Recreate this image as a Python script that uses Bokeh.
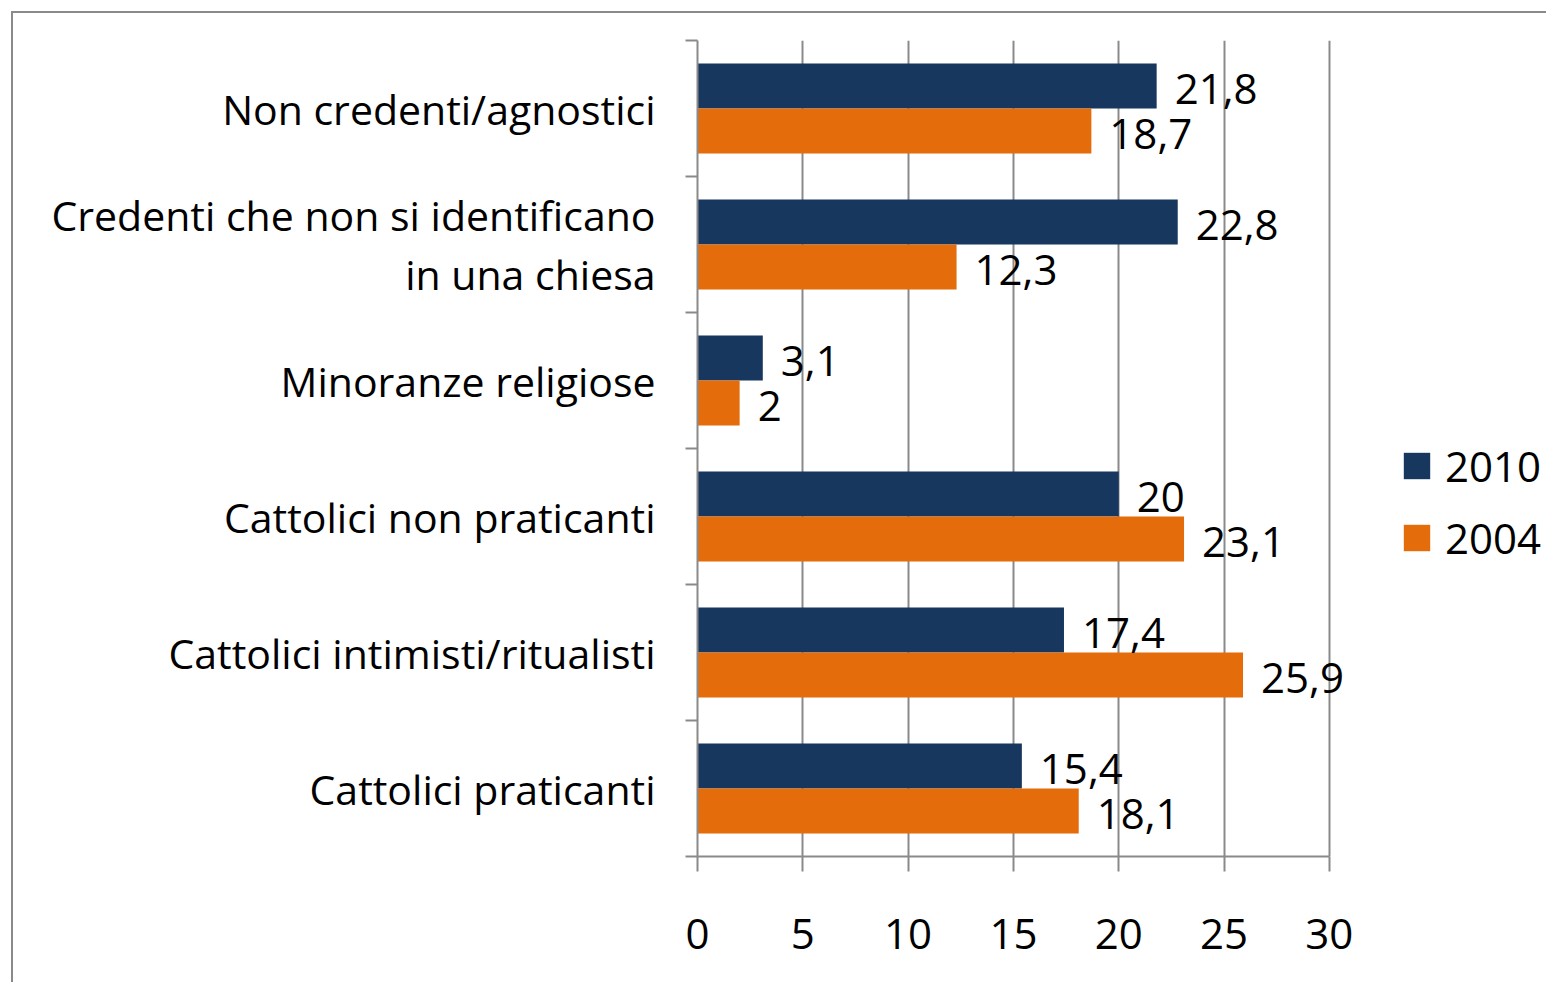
from bokeh.plotting import figure
from bokeh.models import (ColumnDataSource, FixedTicker, LabelSet, Legend, LegendItem, Range1d)
from bokeh.core.properties import value
from bokeh.embed import file_html
from bokeh.resources import INLINE

categories = ["Non credenti/agnostici",
              "Credenti che non si identificano\nin una chiesa",
              "Minoranze religiose",
              "Cattolici non praticanti",
              "Cattolici intimisti/ritualisti",
              "Cattolici praticanti"]
values_2010 = [21.8, 22.8, 3.1, 20.0, 17.4, 15.4]
values_2004 = [18.7, 12.3, 2.0, 23.1, 25.9, 18.1]
series_names = ["2010", "2004"]
x_ticks = [0, 5, 10, 15, 20, 25, 30]

C2010 = "#17375E"
C2004 = "#E46C0A"
GRAY = "#8a8a8a"
FONT = "Open Sans"

n = len(categories)
centers = [n - i - 0.5 for i in range(n)]
off = 0.1655
bh = 0.331

def fmt(v):
    return ("%g" % v).replace(".", ",")

src10 = ColumnDataSource(dict(y=[c + off for c in centers], x=values_2010,
                              lab=[fmt(v) for v in values_2010]))
src04 = ColumnDataSource(dict(y=[c - off for c in centers], x=values_2004,
                              lab=[fmt(v) for v in values_2004]))

p = figure(frame_width=674, frame_height=816,
           x_range=Range1d(0, 32), y_range=Range1d(0, n),
           output_backend="svg", toolbar_location=None,
           min_border_left=684, min_border_top=27, min_border_bottom=126, min_border_right=175)
p.styles = {"border-top": "2px solid #8a8a8a", "border-left": "2px solid #8a8a8a",
            "margin-top": "11px", "margin-left": "11px"}
p.outline_line_color = None
p.background_fill_color = "white"
p.border_fill_color = "white"

# grid
p.ygrid.visible = False
p.xgrid.ticker = FixedTicker(ticks=x_ticks[1:])
p.xgrid.grid_line_color = GRAY
p.xgrid.grid_line_width = 2

r10 = p.hbar(y="y", right="x", left=0, height=bh, source=src10,
             fill_color=C2010, line_color=None)
r04 = p.hbar(y="y", right="x", left=0, height=bh, source=src04,
             fill_color=C2004, line_color=None)

# x axis
xa = p.xaxis[0]
xa.ticker = FixedTicker(ticks=x_ticks)
xa.bounds = (x_ticks[0], x_ticks[-1])
xa.axis_line_color = GRAY
xa.axis_line_width = 2
xa.major_tick_line_color = GRAY
xa.major_tick_line_width = 2
xa.major_tick_out = 15
xa.major_tick_in = 0
xa.minor_tick_line_color = None
xa.major_label_text_font = FONT
xa.major_label_text_font_size = "42px"
xa.major_label_text_color = "black"
xa.major_label_standoff = 47

# y axis: labels at centers, ticks at boundaries (minor)
ya = p.yaxis[0]
ya.ticker = FixedTicker(ticks=centers, minor_ticks=list(range(n + 1)))
ya.major_label_overrides = {c: categories[i] for i, c in enumerate(centers)}
ya.axis_line_color = GRAY
ya.axis_line_width = 2
ya.major_tick_line_color = None
ya.major_tick_out = 0
ya.major_tick_in = 0
ya.minor_tick_line_color = GRAY
ya.minor_tick_line_width = 2
ya.minor_tick_out = 12
ya.minor_tick_in = 0
ya.major_label_text_font = FONT
ya.major_label_text_font_size = "41px"
ya.major_label_text_line_height = 1.05
ya.major_label_text_color = "black"
ya.major_label_standoff = 30

for s in (src10, src04):
    ls = LabelSet(x="x", y="y", text="lab", source=s, x_offset=18, y_offset=-3,
                  text_font=value(FONT), text_font_size="42px", text_baseline="middle",
                  text_color="black")
    p.add_layout(ls)

legend = Legend(items=[LegendItem(label=series_names[0], renderers=[r10]),
                       LegendItem(label=series_names[1], renderers=[r04])],
                location=(29, 290), orientation="vertical")
legend.border_line_color = None
legend.background_fill_alpha = 0
legend.padding = 0
legend.margin = 0
legend.glyph_width = 33
legend.glyph_height = 33
legend.label_text_font = FONT
legend.label_text_font_size = "42px"
legend.label_text_color = "black"
legend.label_standoff = 12
legend.spacing = 15
p.add_layout(legend, "right")

open("out.html", "w").write(file_html(p, INLINE))
